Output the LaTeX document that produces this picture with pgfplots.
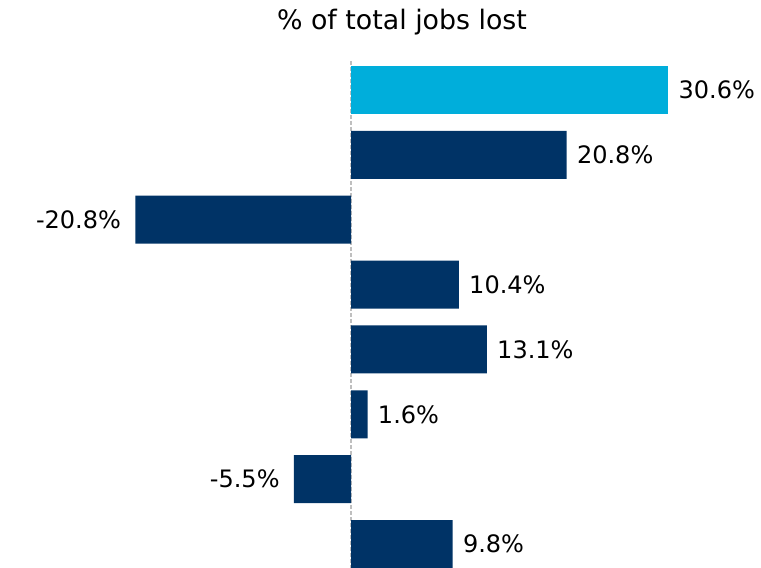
\documentclass[border=0pt]{standalone}
\usepackage{fontspec}
\setmainfont{DejaVu Sans}
\usepackage{pgfplots}
\pgfplotsset{compat=1.18}
\definecolor{navy}{RGB}{0,51,102}
\definecolor{lightb}{RGB}{0,174,219}
\begin{document}
\begin{tikzpicture}
\begin{axis}[
 scale only axis, width=380.5pt, height=284pt,
 xmin=-33.85, xmax=39.54, ymin=-0.3876, ymax=8.370, y dir=reverse,
 hide axis, xbar, bar width=0.74, bar shift=0pt,
 clip=true,
 nodes near coords={\pgfplotspointmeta\%}, point meta=explicit symbolic,
 every node near coord/.append style={font=\fontsize{12}{14}\selectfont, text=black},
]
\draw[gray!50, dash pattern=on 2pt off 1pt, line width=0.8pt] (axis cs:0,0.553) -- (axis cs:0,8.37);
\addplot[fill=lightb, draw=none, every node near coord/.append style={anchor=west, inner sep=5pt}] table[meta=label] {
x y label
30.6 1 30.6
};
\addplot[fill=navy, draw=none, every node near coord/.append style={anchor=west, inner sep=5pt}] table[meta=label] {
x y label
20.8 2 20.8
10.4 4 10.4
13.1 5 13.1
1.6 6 1.6
9.8 8 9.8
};
\addplot[fill=navy, draw=none, every node near coord/.append style={anchor=east, inner sep=7pt}] table[meta=label] {
x y label
-20.8 3 -20.8
-5.5 7 -5.5
};
\node[font=\fontsize{13.4}{15}\selectfont] at (axis cs:4.92,-0.048) {\% of total jobs lost};
\coordinate (bl) at (rel axis cs:0,0);
\coordinate (tr) at (rel axis cs:1,1);
\end{axis}
\pgfresetboundingbox
\useasboundingbox (bl) rectangle (tr);
\end{tikzpicture}
\end{document}
